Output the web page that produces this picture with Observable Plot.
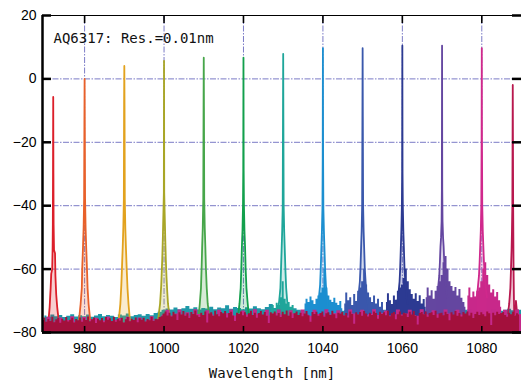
<!DOCTYPE html>
<html><head><meta charset="utf-8">
<script src="https://cdn.jsdelivr.net/npm/d3@7"></script>
<script src="https://cdn.jsdelivr.net/npm/@observablehq/plot@0.6"></script>
<style>body{margin:0;background:#fff} svg{display:block}</style>
</head><body><div id="chart"></div>
<script>
// ---- data ----
const title = "AQ6317: Res.=0.01nm";
const xLabel = "Wavelength [nm]";
const xDomain = [969.4, 1090];
const yDomain = [-80, 20];
const xTicks = [980, 1000, 1020, 1040, 1060, 1080];
const yTicks = [20, 0, -20, -40, -60, -80];

// peak centres / colours (one spectrum per laser line)
const peakNames = ["972","980","990","1000","1010","1020","1030","1040","1050","1060","1070","1080","1088"];
const peakColors = ["#dc1f2a","#e8602a","#e2a21e","#a9a626","#47a64a","#12a04c","#1fa69a","#1c8fd0","#3a58ac","#2c3a92","#6446a0","#d0288c","#b8184e"];
const peak972 = [[970.9,-76.5],[971.2,-72],[971.45,-66],[971.6,-61.5],[971.85,-60],[971.95,-53],[972.0,-46],[972.05,-30],[972.1,-5.7],[972.15,-30],[972.2,-46],[972.3,-54],[972.55,-55],[972.65,-62],[972.85,-68],[973.1,-72],[973.5,-76.5]];
const peak980 = [[978.6,-76],[979.0,-71],[979.3,-66],[979.4,-60],[979.6,-53],[979.75,-47],[979.88,-38],[979.95,-15],[980.0,0],[980.05,-15],[980.12,-38],[980.25,-47],[980.4,-53],[980.6,-60],[980.75,-66],[981.0,-71],[981.4,-76]];
const peak990 = [[988.6,-76],[989.0,-71],[989.25,-65],[989.4,-60],[989.6,-53],[989.75,-47],[989.88,-38],[989.95,-8],[990.0,4.1],[990.05,-8],[990.12,-38],[990.25,-47],[990.4,-53],[990.6,-60],[990.8,-66],[991.05,-71],[991.4,-76]];
const peak1000 = [[998.5,-76],[999.0,-71],[999.3,-65],[999.45,-60],[999.55,-57],[999.7,-50],[999.85,-42],[999.95,-36],[1000.0,5.7],[1000.05,-36],[1000.15,-42],[1000.3,-50],[1000.45,-57],[1000.6,-62],[1000.8,-67],[1001.0,-71],[1001.4,-75]];
const peak1010 = [[1008.7,-75],[1009.0,-71],[1009.3,-66],[1009.45,-60],[1009.6,-53],[1009.75,-47],[1009.88,-38],[1009.95,-9],[1010.0,6.7],[1010.05,-9],[1010.12,-38],[1010.25,-47],[1010.4,-53],[1010.55,-60],[1010.75,-66],[1011.0,-71],[1011.3,-74]];
const peak1020 = [[1018.7,-74],[1019.0,-71],[1019.3,-66],[1019.45,-60],[1019.6,-53],[1019.75,-48],[1019.88,-40],[1019.95,-29],[1020.0,6.7],[1020.05,-29],[1020.12,-40],[1020.25,-48],[1020.4,-53],[1020.55,-60],[1020.75,-66],[1021.0,-70],[1021.3,-74]];
const peak1030 = [[1028.7,-73],[1029.0,-70],[1029.3,-66],[1029.45,-60],[1029.6,-54],[1029.75,-48],[1029.88,-40],[1029.95,-13],[1030.0,7.9],[1030.05,-13],[1030.12,-40],[1030.25,-48],[1030.4,-54],[1030.55,-60],[1030.75,-66],[1031.0,-70],[1031.3,-73]];
const peak1040 = [[1038.7,-72],[1039.0,-69],[1039.3,-65],[1039.45,-60],[1039.6,-54],[1039.75,-48],[1039.88,-41],[1039.95,-25],[1040.0,9.7],[1040.05,-25],[1040.12,-41],[1040.25,-48],[1040.4,-54],[1040.55,-60],[1040.75,-65],[1041.0,-69],[1041.3,-72]];
const peak1050 = [[1048.7,-71],[1049.0,-68],[1049.3,-64],[1049.45,-60],[1049.6,-54],[1049.75,-48],[1049.88,-40],[1049.95,-12],[1050.0,9.7],[1050.05,-12],[1050.12,-40],[1050.25,-48],[1050.4,-54],[1050.55,-60],[1050.75,-64],[1051.0,-68],[1051.3,-71]];
const peak1060 = [[1058.7,-71],[1059.0,-68],[1059.3,-64],[1059.45,-60],[1059.6,-54],[1059.75,-48],[1059.88,-40],[1059.95,-30],[1060.0,10.5],[1060.05,-30],[1060.12,-40],[1060.25,-48],[1060.4,-54],[1060.55,-60],[1060.75,-64],[1061.0,-68],[1061.3,-71]];
const peak1070 = [[1068.7,-69],[1069.0,-66],[1069.3,-62],[1069.45,-58],[1069.6,-53],[1069.75,-50],[1069.88,-45],[1069.95,-35],[1070.0,10.5],[1070.05,-35],[1070.12,-45],[1070.25,-50],[1070.4,-53],[1070.55,-58],[1070.75,-62],[1071.0,-66],[1071.3,-69]];
const peak1080 = [[1078.7,-69],[1079.0,-66],[1079.3,-62],[1079.45,-58],[1079.6,-53],[1079.75,-48],[1079.88,-40],[1079.95,-20],[1080.0,9.7],[1080.05,-20],[1080.12,-40],[1080.25,-48],[1080.4,-53],[1080.55,-58],[1080.75,-62],[1081.0,-66],[1081.3,-69]];
const peak1088 = [[1086.6,-74],[1086.9,-71],[1087.2,-66],[1087.35,-60],[1087.5,-54],[1087.6,-48],[1087.7,-40],[1087.75,-20],[1087.8,-1.9],[1087.85,-20],[1087.9,-40],[1088.0,-60],[1088.1,-70],[1088.25,-80],[1088.45,-80],[1088.6,-70],[1088.9,-74]];
const peaks = [peak972,peak980,peak990,peak1000,peak1010,peak1020,peak1030,peak1040,peak1050,peak1060,peak1070,peak1080,peak1088];

// noise pedestals (start wavelength, step 0.5 nm, upper envelope dB)
const ped1030 = {start:1027, color:"#1fa69a", db:[-72.5,-71.5,-72.8,-70.8,-71.5,-69,-64,-69.5,-71,-70.5,-72,-71.5,-73]};
const ped1040 = {start:1035.5, color:"#1c8fd0", db:[-71,-69.5,-70.5,-68.8,-70,-71.2,-69.5,-68.5,-67.5,-66,-60,-66,-68.5,-69.8,-70.5,-69.2,-70.8,-71.5,-70.2,-72.5]};
const ped1050 = {start:1045.5, color:"#3a58ac", db:[-71,-67.5,-70,-69,-71.5,-68,-70.2,-67,-66,-64,-60,-65,-67.5,-69,-70.5,-68.5,-71,-69.5,-72,-70.5,-73]};
const ped1060 = {start:1056, color:"#2c3a92", db:[-70.5,-67.8,-70,-71.2,-68.5,-69.8,-67,-66,-65,-63,-60,-64,-66.5,-68,-69.5,-67.8,-70.2,-68.4,-71,-69.6,-72]};
const ped1070 = {start:1066, color:"#6446a0", db:[-69,-66,-68.5,-66.8,-69.5,-67,-65.5,-64,-62,-58,-56,-60,-64,-65.5,-67,-65.8,-68.5,-66.4,-69.2,-70.5,-72]};
const ped1080 = {start:1076.5, color:"#c8288a", db:[-68.5,-66,-69,-67.2,-68.8,-67,-66,-64,-60,-58,-62,-65,-67.5,-66.5,-68.8,-67.4,-70,-72]};
const pedestals = [ped1030, ped1040, ped1050, ped1060, ped1070, ped1080];

// mixed noise fringe (970..1090, 1 nm)
const mixedStart = 970, mixedStep = 1;
const mixedTop = [-74.8,-75.2,-74.5,-75.0,-74.6,-75.3,-74.9,-74.4,-75.1,-74.7,-75.0,-74.5,-75.2,-74.8,-74.3,-75.0,-74.6,-74.9,-75.3,-74.5,-74.8,-74.2,-75.0,-74.6,-74.4,-74.9,-74.3,-74.7,-74.0,-73.6,
-73.0,-72.6,-72.9,-72.3,-72.8,-72.5,-71.8,-72.7,-72.2,-72.9,-72.4,-72.6,-72.0,-72.8,-72.3,-72.5,-71.6,-72.7,-72.1,-72.4,-72.8,-72.2,-72.6,-71.9,-72.5,-72.8,-72.1,-71.2,-72.4,-72.0,-72.6,-72.3,-72.9,-72.5,-73.0,-73.2,-72.8,-73.4,-73.0,-73.3,-73.1,-73.5,-73.0,-73.4,-72.9,-73.3,-73.1,-73.6,-73.2,-73.0,-73.4,-73.1,-73.5,-73.2,-72.9,-73.3,-73.0,-73.4,-73.1,-73.3,-73.0,-73.5,-73.2,-72.9,-73.4,-73.1,-73.3,-73.0,-73.5,-73.2,-73.0,-73.4,-73.1,-73.3,-72.9,-73.2,-73.0,-73.4,-73.1,-73.3,-73.0,-73.2,-72.8,-73.1,-72.9,-73.3,-73.0,-72.7,-73.1,-72.9,-73.0];
const magentaTop = [-76.8,-75.2,-77.0,-76.4,-75.4,-76.9,-76.2,-75.0,-76.7,-76.3,-75.3,-77.1,-76.0,-75.5,-76.8,-76.4,-75.1,-76.6,-76.2,-75.6,-77.0,-75.2,-76.5,-76.1,-75.4,-76.9,-76.3,-75.0,-76.4,-75.8,
-74.6,-73.0,-74.8,-74.2,-72.9,-74.5,-73.8,-74.9,-72.8,-74.3,-74.7,-73.1,-74.4,-74.9,-73.0,-74.6,-74.1,-72.9,-74.8,-74.2,-73.2,-74.5,-74.9,-72.8,-74.3,-74.6,-73.0,-74.7,-74.1,-72.9,-74.5,-74.8,-73.1,-74.2,-74.6,-72.9,-74.4,-74.9,-73.0,-74.3,-74.7,-72.8,-74.5,-74.1,-73.1,-74.6,-74.8,-72.9,-74.2,-74.5,-73.0,-74.7,-74.3,-72.8,-74.6,-74.1,-73.2,-74.8,-74.4,-72.9,-74.5,-74.2,-73.0,-74.6,-74.9,-72.8,-74.3,-74.7,-73.1,-74.4,-74.6,-72.9,-74.2,-74.8,-73.0,-74.5,-74.3,-72.8,-74.7,-74.1,-73.1,-74.6,-74.4,-72.9,-74.8,-74.2,-73.0,-74.5,-74.7,-72.9,-74.3];
// crimson floor of the last spectrum (969.5..1090, 0.5 nm)
const floorStart = 969.5, floorStep = 0.5;
const floorTop = [-76.2,-75.4,-76.8,-75.9,-76.5,-75.2,-76.9,-76.0,-75.6,-77.1,
-75.8,-76.4,-75.3,-76.7,-76.1,-75.5,-77.0,-75.9,-76.3,-75.4,
-76.8,-75.7,-76.2,-75.1,-76.6,-76.0,-75.4,-77.2,-75.8,-76.3,
-75.6,-76.9,-75.3,-76.1,-75.7,-76.5,-75.2,-76.8,-75.9,-76.4,
-75.5,-77.0,-76.0,-75.3,-76.6,-75.8,-76.2,-75.4,-76.9,-75.7,
-76.1,-75.5,-76.7,-75.9,-76.3,-75.2,-76.5,-75.8,-76.0,-75.3,-75.0,
-74.2,-73.5,-74.8,-73.9,-75.1,-73.6,-74.4,-76.2,-73.8,-74.5,
-73.4,-74.9,-74.1,-75.6,-73.7,-74.3,-73.2,-74.7,-75.3,-73.9,
-74.6,-73.5,-77.0,-74.2,-73.8,-74.9,-73.3,-74.4,-75.0,-73.7,
-74.1,-73.4,-75.4,-74.0,-73.6,-74.8,-76.5,-73.9,-74.3,-73.5,
-74.7,-73.8,-75.2,-74.1,-73.3,-74.6,-73.9,-75.5,-74.0,-73.4,
-74.5,-73.7,-74.9,-77.2,-73.8,-74.2,-73.5,-74.8,-74.0,-75.3,
-73.6,-74.4,-73.2,-74.9,-73.8,-75.6,-74.1,-73.5,-74.6,-73.9,
-75.0,-74.2,-73.4,-74.7,-76.8,-73.7,-74.3,-73.6,-74.9,-74.0,
-73.5,-75.2,-74.1,-73.8,-74.6,-73.3,-74.4,-75.7,-73.9,-74.2,
-73.6,-74.8,-74.0,-75.4,-73.5,-74.3,-77.4,-73.8,-74.5,-73.7,
-74.9,-73.4,-74.2,-75.1,-73.9,-74.6,-73.5,-74.0,-75.8,-73.6,
-74.3,-73.8,-74.7,-73.3,-75.0,-74.1,-73.7,-76.0,-74.4,-73.5,
-74.8,-73.9,-74.2,-75.3,-73.6,-74.5,-73.4,-74.9,-77.6,-74.0,
-73.7,-74.4,-73.5,-75.2,-74.0,-73.8,-74.6,-73.3,-75.5,-74.1,
-73.9,-74.7,-73.6,-74.3,-76.3,-73.8,-74.5,-73.4,-74.9,-74.0,
-75.1,-73.7,-74.2,-73.5,-74.8,-73.9,-75.6,-74.3,-73.6,-74.6,
-73.8,-74.4,-75.0,-73.5,-74.1,-77.8,-73.9,-74.7,-73.6,-74.3,
-74.0,-73.7,-74.6,-75.2,-73.9,-74.4,-73.6,-74.8,-74.1,-74.5];

// ---- build tables ----
const series = (start, step, arr) => arr.map((db, i) => ({wl: start + i * step, db}));
const mixedRows = series(mixedStart, mixedStep, mixedTop);
const magentaRows = series(mixedStart, mixedStep, magentaTop);
const floorRows = series(floorStart, floorStep, floorTop);

const W = 521, H = 380, mL = 42, mR = 0, mT = 15, mB = 48;
const innerW = W - mL - mR, innerH = H - mT - mB;
const gridStyle = {stroke: "#7b7bc6", strokeWidth: 1, strokeDasharray: "6,1.5,1.5,1.5"};
const labelFont = "Liberation Sans, Arial, sans-serif";
const monoFont = "DejaVu Sans Mono, monospace";

const marks = [
  Plot.ruleX(xTicks, {x: d => d, ...gridStyle}),
  Plot.ruleY(yTicks.filter(d => d !== -80), {y: d => d, ...gridStyle}),
  Plot.areaY(mixedRows, {x: "wl", y1: -80, y2: "db", fill: "#1e98a8", curve: "step", clip: true}),
  ...pedestals.map(p => Plot.areaY(series(p.start, 0.5, p.db), {x: "wl", y1: -80, y2: "db", fill: p.color, curve: "step", clip: true})),
  ...peaks.map((pk, i) => Plot.areaY(pk.map(([wl, db]) => ({wl, db})), {x: "wl", y1: -80, y2: "db", fill: peakColors[i], fillOpacity: 0.22, clip: true})),
  ...peaks.map((pk, i) => Plot.line(pk.map(([wl, db]) => ({wl, db})), {x: "wl", y: "db", stroke: peakColors[i], strokeWidth: 1.8, clip: true})),
  Plot.areaY(magentaRows, {x: "wl", y1: -80, y2: "db", fill: "#c4288a", curve: "step", clip: true}),
  Plot.areaY(floorRows, {x: "wl", y1: -80, y2: "db", fill: "#a3103c", curve: "step", clip: true}),
  // frame
  Plot.ruleX([xDomain[0]], {x: d => d, stroke: "#000", strokeWidth: 2.5}),
  Plot.ruleY([yDomain[0]], {y: d => d, stroke: "#000", strokeWidth: 2.5}),
  Plot.ruleY([yDomain[1]], {y: d => d, stroke: "#000", strokeWidth: 1.2}),
  // inward ticks
  Plot.tickY(yTicks, {y: d => d, insetRight: innerW - 9, stroke: "#000", strokeWidth: 2.5}),
  Plot.tickY(yTicks, {y: d => d, insetLeft: innerW - 9, stroke: "#000", strokeWidth: 2.5}),
  Plot.tickX(xTicks, {x: d => d, insetBottom: innerH - 8, stroke: "#000", strokeWidth: 1.6}),
  Plot.tickX(xTicks, {x: d => d, insetTop: innerH - 6, stroke: "#000", strokeWidth: 1.6}),
  // axes labels
  Plot.axisY(yTicks, {anchor: "left", tickSize: 0, tickPadding: 6, fontSize: 14, fontFamily: labelFont, fill: "#000", label: null}),
  Plot.axisX(xTicks, {anchor: "bottom", tickSize: 0, tickPadding: 11, fontSize: 14, fontFamily: labelFont, fill: "#000", label: null, tickFormat: d => String(d)}),
  Plot.text([title], {text: d => d, frameAnchor: "top-left", dx: 11, dy: 23, textAnchor: "start", lineAnchor: "middle", fontFamily: monoFont, fontSize: 14, letterSpacing: "-0.55px", fill: "#111"}),
  Plot.text([xLabel], {text: d => d, frameAnchor: "bottom", dx: -10, dy: 41, textAnchor: "middle", lineAnchor: "middle", fontFamily: monoFont, fontSize: 14, letterSpacing: "-0.55px", fill: "#111"})
];

const chart = Plot.plot({
  width: W, height: H,
  marginLeft: mL, marginRight: mR, marginTop: mT, marginBottom: mB,
  x: {domain: xDomain, axis: null},
  y: {domain: yDomain, axis: null},
  style: {background: "#fff", overflow: "visible"},
  marks
});
document.getElementById("chart").appendChild(chart);
</script>
</body></html>
